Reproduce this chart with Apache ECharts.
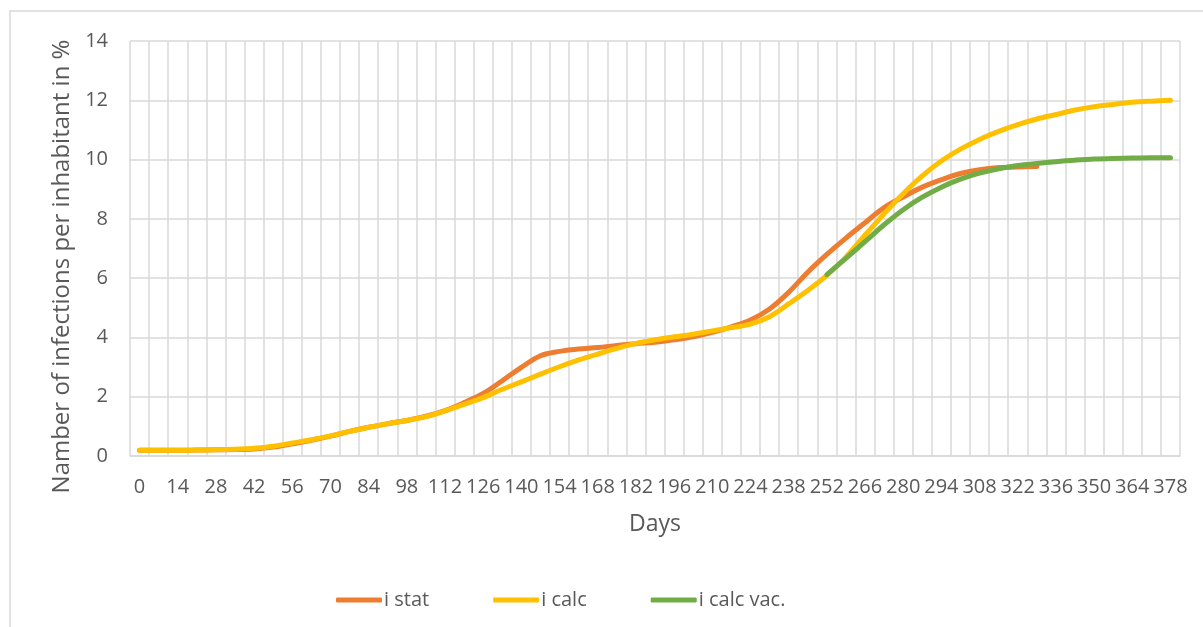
<!DOCTYPE html>
<html>
<head>
<meta charset="utf-8">
<script src="https://cdn.jsdelivr.net/npm/echarts@6/dist/echarts.min.js"></script>
<style>
html, body { margin: 0; padding: 0; background: #fff; }
#container { width: 1203px; height: 627px; }
</style>
</head>
<body>
<div id="container"></div>
<script>
// days, one category per week
var days = [];
for (var d = 0; d <= 378; d += 7) days.push(String(d));

var iStat = [
    0.19, 0.19, 0.19, 0.20, 0.21, 0.22, 0.24, 0.30, 0.41, 0.53,
    0.67, 0.83, 0.97, 1.09, 1.20, 1.34, 1.53, 1.80, 2.11, 2.54,
    2.99, 3.38, 3.53, 3.61, 3.66, 3.73, 3.79, 3.84, 3.92, 4.02,
    4.17, 4.36, 4.59, 4.96, 5.52, 6.20, 6.80, 7.35, 7.87, 8.38,
    8.74, 9.07, 9.32, 9.53, 9.66, 9.73, 9.75, 9.77,
    null, null, null, null, null, null, null
];
var iCalc = [
    0.19, 0.19, 0.19, 0.20, 0.21, 0.23, 0.26, 0.33, 0.44, 0.55,
    0.68, 0.83, 0.97, 1.09, 1.20, 1.33, 1.52, 1.74, 1.97, 2.25,
    2.50, 2.76, 3.01, 3.24, 3.44, 3.63, 3.80, 3.92, 4.02, 4.11,
    4.22, 4.33, 4.45, 4.70, 5.13, 5.58, 6.09, 6.71, 7.45, 8.17,
    8.85, 9.45, 9.95, 10.35, 10.68, 10.95, 11.18, 11.37, 11.52, 11.67,
    11.78, 11.86, 11.93, 11.97, 12.00
];
var iCalcVac = [
    null, null, null, null, null, null, null, null, null, null,
    null, null, null, null, null, null, null, null, null, null,
    null, null, null, null, null, null, null, null, null, null,
    null, null, null, null, null, null, 6.12, 6.67, 7.23, 7.80,
    8.31, 8.73, 9.07, 9.34, 9.54, 9.69, 9.80, 9.87, 9.93, 9.98,
    10.02, 10.04, 10.05, 10.06, 10.06
];
var seriesNames = ['i stat', 'i calc', 'i calc vac.'];
var colors = ['#ED7D31', '#FFC000', '#70AD47'];

var font = '"Open Sans", "Noto Sans", sans-serif';
var myChart = echarts.init(document.getElementById('container'));

function lineSeries(name, data, color) {
    return {
        name: name,
        type: 'line',
        data: data,
        smooth: 0.35,
        showSymbol: false,
        symbol: 'none',
        itemStyle: {color: color},
        lineStyle: {color: color, width: 5, cap: 'round', join: 'round'}
    };
}

var option = {
    animation: false,
    color: colors,
    textStyle: {fontFamily: font},
    graphic: [{
        type: 'rect',
        shape: {x: 10, y: 11, width: 1300, height: 700},
        style: {fill: 'none', stroke: '#d9d9d9', lineWidth: 1.5},
        silent: true
    }],
    grid: {left: 130, right: 23, top: 41, bottom: 171},
    legend: {
        left: 331,
        top: 585,
        itemGap: 64,
        itemWidth: 46,
        itemHeight: 5,
        icon: 'roundRect',
        textStyle: {fontSize: 20, color: '#595959', fontFamily: font, padding: [0, 0, 0, -3]},
        data: seriesNames
    },
    xAxis: {
        type: 'category',
        data: days,
        boundaryGap: true,
        name: 'Days',
        nameLocation: 'middle',
        nameGap: 57,
        nameTextStyle: {fontSize: 23, color: '#595959'},
        axisLine: {lineStyle: {color: '#d9d9d9', width: 1.5}},
        axisTick: {show: false, interval: 0},
        axisLabel: {interval: 1, fontSize: 20, color: '#595959', margin: 21},
        splitLine: {show: true, interval: 0, lineStyle: {color: '#d9d9d9', width: 1.5}}
    },
    yAxis: {
        type: 'value',
        min: 0,
        max: 14,
        interval: 2,
        name: 'Namber of infections per inhabitant in %',
        nameLocation: 'middle',
        nameGap: 56,
        nameTextStyle: {fontSize: 24, color: '#595959', padding: [0, 36, 0, 0]},
        axisLine: {show: false},
        axisTick: {show: false},
        axisLabel: {fontSize: 20, color: '#595959', margin: 22},
        splitLine: {lineStyle: {color: '#d9d9d9', width: 1.5}}
    },
    series: [
        lineSeries(seriesNames[0], iStat, colors[0]),
        lineSeries(seriesNames[1], iCalc, colors[1]),
        lineSeries(seriesNames[2], iCalcVac, colors[2])
    ]
};
myChart.setOption(option);
</script>
</body>
</html>
